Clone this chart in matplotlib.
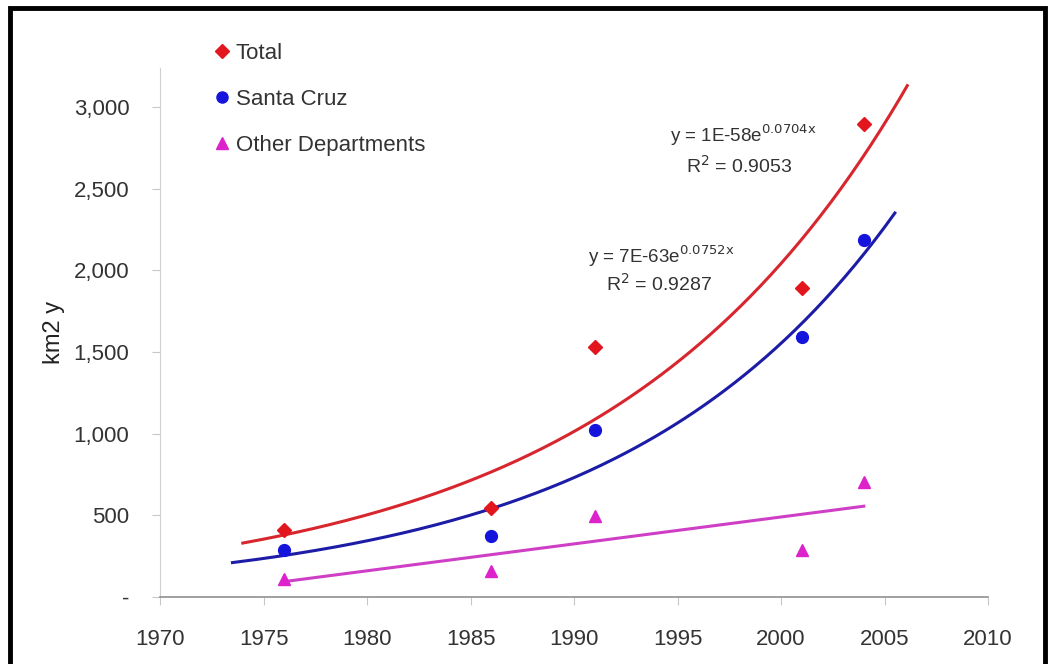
import numpy as np
import matplotlib
matplotlib.use("Agg")
import matplotlib.pyplot as plt
from matplotlib.ticker import FuncFormatter, MultipleLocator
from matplotlib.lines import Line2D

plt.rcParams['font.family'] = ['Liberation Sans', 'DejaVu Sans']

years = [1976, 1986, 1991, 2001, 2004]
total = [410, 545, 1530, 1890, 2900]
santa_cruz = [288, 373, 1022, 1591, 2185]
other = [110, 160, 496, 288, 704]

series_names = ["Total", "Santa Cruz", "Other Departments"]
eq_total = [r"y = 1E-58e$^{\mathrm{0.0704x}}$", r"R$^\mathrm{2}$ = 0.9053"]
eq_sc = [r"y = 7E-63e$^{\mathrm{0.0752x}}$", r"R$^\mathrm{2}$ = 0.9287"]

fig = plt.figure(figsize=(10.52, 6.64), dpi=100)
ax = fig.add_axes([160/1052, 1-597/664, (988-160)/1052, (597-68)/664])

c_red = '#e3161d'
c_blue = '#1414dc'
c_mag = '#dd22cc'

x = np.array(years, dtype=float)

# exponential trend lines (fit on log values, like a spreadsheet trendline)
bt, at = np.polyfit(x, np.log(total), 1)
xt = np.linspace(1974.0, 2006.1, 200)
ax.plot(xt, np.exp(at + bt * xt), color='#d8262e', lw=2.2, zorder=2)

bs, as_ = np.polyfit(x, np.log(santa_cruz), 1)
xs = np.linspace(1973.5, 2005.5, 200)
ax.plot(xs, np.exp(as_ + bs * xs), color='#1c1ca6', lw=2.2, zorder=2)

mo, co = np.polyfit(x, other, 1)
xo = np.array([1976.0, 2004.0])
ax.plot(xo, mo * xo + co, color='#cf3fc6', lw=2.2, zorder=2)

ax.plot(years, total, linestyle='none', marker='D', ms=7.5, color=c_red, zorder=3)
ax.plot(years, santa_cruz, linestyle='none', marker='o', ms=8.5, color=c_blue, zorder=3)
ax.plot(years, other, linestyle='none', marker='^', ms=8.5, color=c_mag, zorder=3)

ax.set_xlim(1970, 2010)
ax.set_ylim(0, 3240)
ax.xaxis.set_major_locator(MultipleLocator(5))
ax.yaxis.set_major_locator(MultipleLocator(500))
ax.yaxis.set_major_formatter(FuncFormatter(lambda v, p: '-' if v == 0 else f'{int(v):,}'))

for s in ['top', 'right']:
    ax.spines[s].set_visible(False)
ax.spines['left'].set_color('#d0d0d0')
ax.spines['bottom'].set_color('#909090')
ax.spines['bottom'].set_linewidth(1.2)
ax.tick_params(axis='y', colors='#c8c8c8', labelcolor='#333333', labelsize=16, length=6, pad=16)
ax.tick_params(axis='x', colors='#c8c8c8', labelcolor='#333333', labelsize=16, length=6, pad=17)
ax.set_ylabel('km2 y', fontsize=17, color='#222222', labelpad=6)

ax.text(1998.2, 2830, eq_total[0], fontsize=13.5, color='#333333', ha='center', va='center')
ax.text(1998.0, 2640, eq_total[1], fontsize=14, color='#333333', ha='center', va='center')
ax.text(1994.2, 2090, eq_sc[0], fontsize=13.5, color='#333333', ha='center', va='center')
ax.text(1994.1, 1915, eq_sc[1], fontsize=14, color='#333333', ha='center', va='center')

handles = [
    Line2D([], [], linestyle='none', marker='D', ms=7, color=c_red),
    Line2D([], [], linestyle='none', marker='o', ms=8, color=c_blue),
    Line2D([], [], linestyle='none', marker='^', ms=8, color=c_mag),
]
fig.legend(handles, series_names, loc='upper left', bbox_to_anchor=(210/1052, 1-43/664),
           frameon=False, fontsize=16, handletextpad=0.05, handlelength=1.1,
           labelspacing=1.13, labelcolor='#333333', borderaxespad=0, borderpad=0)

# outer black frame
fr = plt.Rectangle((10/1052, -0.05), (1045-10)/1052, 1.05 - 8/664,
                   transform=fig.transFigure, fill=False, edgecolor='black', lw=3.5)
fig.patches.append(fr)

fig.savefig('out.png', dpi=100)
